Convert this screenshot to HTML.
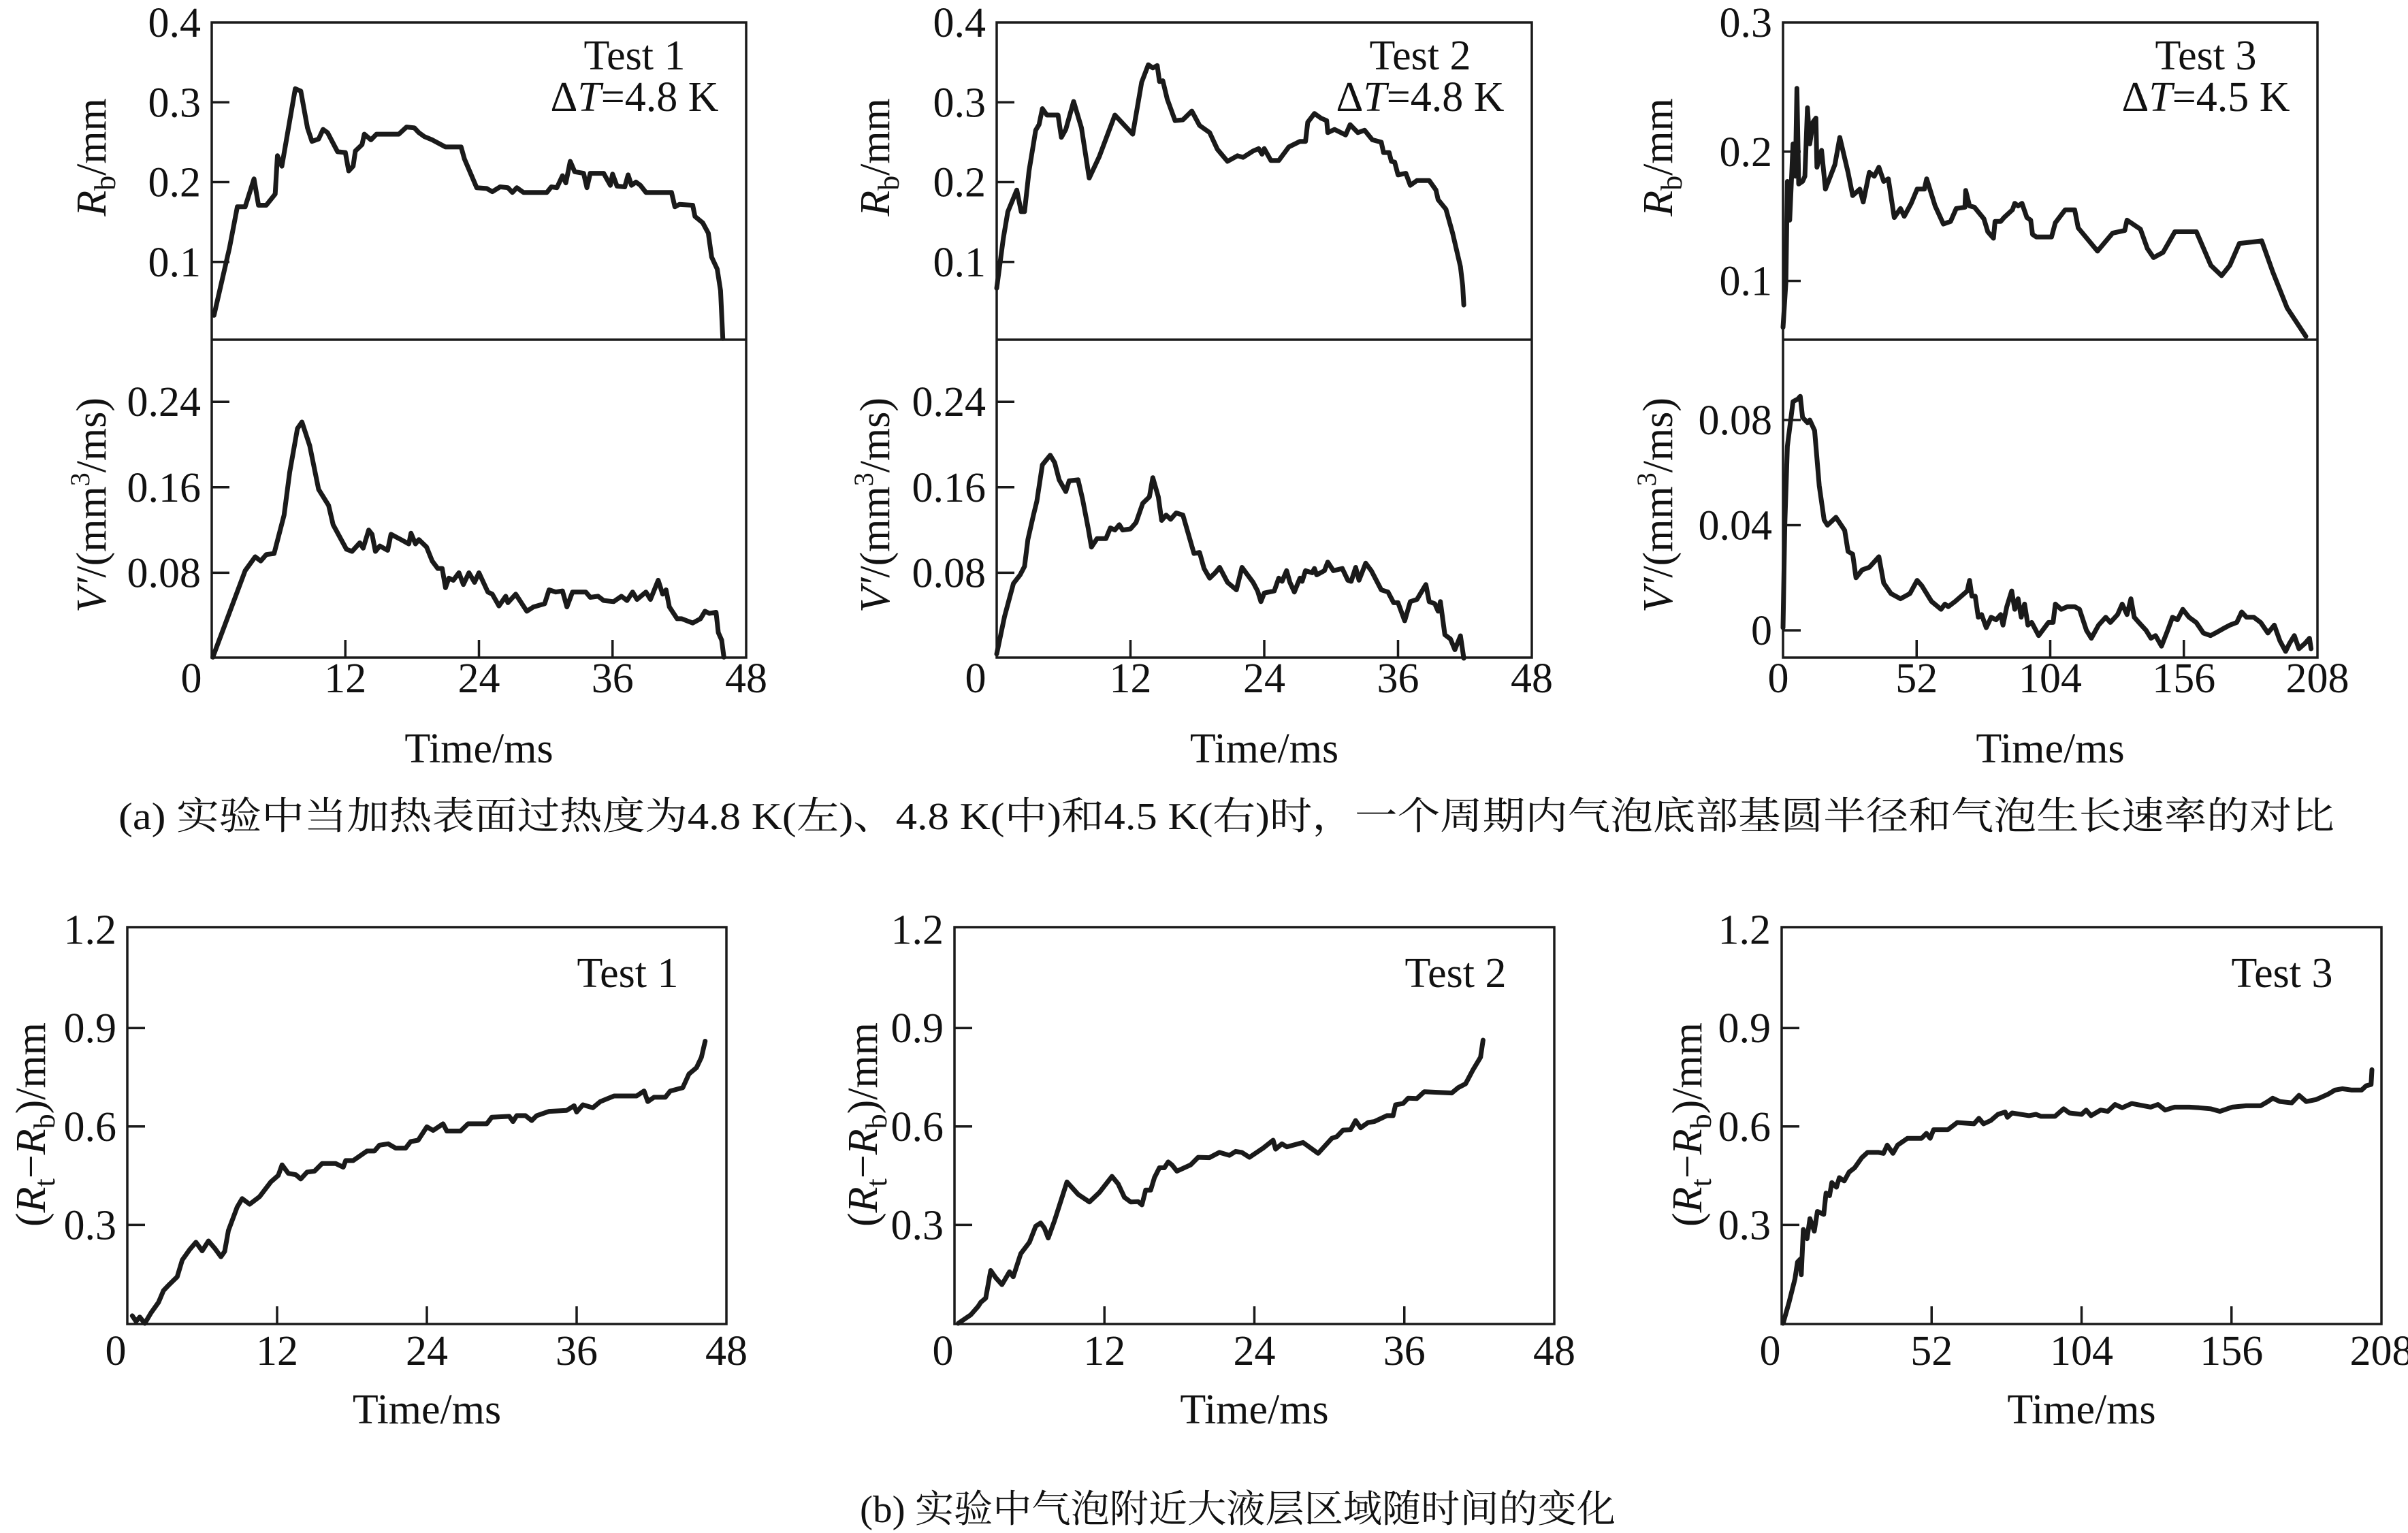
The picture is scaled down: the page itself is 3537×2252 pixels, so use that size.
<!DOCTYPE html>
<html><head><meta charset="utf-8"><style>
html,body{margin:0;padding:0;background:#fff;}
svg{display:block;}
text{font-family:"Liberation Serif","Noto Serif CJK SC",serif;fill:#111;}
.cap{font-family:"Liberation Serif","Noto Serif CJK SC",serif;font-weight:normal;}
</style></head><body>
<svg id="fig" width="3537" height="2252" viewBox="0 0 3537 2252" xmlns="http://www.w3.org/2000/svg" font-family="Liberation Serif, Noto Serif CJK SC, serif">
<text class="cap" x="174" y="1218" font-size="56" textLength="3255" lengthAdjust="spacingAndGlyphs">(a) 实验中当加热表面过热度为4.8 K(左)、4.8 K(中)和4.5 K(右)时，一个周期内气泡底部基圆半径和气泡生长速率的对比</text>
<text class="cap" x="1263" y="2236" font-size="56" textLength="1110" lengthAdjust="spacingAndGlyphs">(b) 实验中气泡附近大液层区域随时间的变化</text>
</svg>
<script>
// ---- data (time in ms, values) ----
const rb1T=[0.2,1.6,2.3,3.0,3.8,4.2,4.9,5.7,5.9,6.3,7.5,8.0,8.6,9.0,9.6,10.0,10.4,11.3,12.0,12.3,12.7,12.9,13.5,13.7,14.3,14.8,16.8,17.5,18.2,18.6,19.1,19.8,21.0,22.4,22.7,23.8,24.7,25.2,25.9,26.6,27.0,27.4,28.0,30.1,30.5,31.0,31.5,31.8,32.2,32.6,33.4,33.7,34.0,35.2,35.8,36.0,36.4,37.1,37.4,37.7,38.1,38.5,39.0,41.3,41.6,42.0,43.2,43.4,44.1,44.6,44.9,45.4,45.7,45.9];
const rb1V=[.033,.118,.169,.169,.204,.171,.171,.185,.233,.22,.317,.314,.268,.251,.254,.266,.262,.238,.237,.214,.22,.239,.247,.26,.253,.26,.26,.269,.268,.262,.257,.253,.244,.244,.229,.193,.192,.188,.194,.193,.187,.193,.187,.187,.194,.193,.208,.199,.226,.213,.211,.193,.211,.211,.196,.21,.195,.194,.209,.196,.2,.196,.187,.187,.169,.172,.171,.157,.149,.136,.106,.091,.064,.004];
const vp1T=[0.1,3.0,3.9,4.4,4.9,5.6,6.5,7.0,7.7,8.1,8.8,9.6,10.5,10.9,12.1,12.6,13.3,13.6,14.1,14.4,14.7,15.1,15.8,16.1,17.0,17.7,17.9,18.3,18.6,19.3,19.8,20.3,20.7,21.0,21.3,21.7,22.2,22.6,23.1,23.6,24.0,24.8,25.2,25.8,26.4,26.6,27.3,28.3,28.9,29.9,30.3,30.9,31.5,31.9,32.4,33.6,34.0,34.7,35.2,36.1,36.8,37.3,37.8,38.2,39.0,39.4,40.1,40.5,40.8,41.1,41.8,42.2,43.2,43.9,44.3,44.7,45.3,45.5,45.8,46.0];
const vp1V=[.001,.082,.095,.091,.097,.098,.134,.174,.215,.221,.199,.158,.143,.125,.102,.100,.108,.103,.12,.116,.100,.105,.101,.116,.111,.107,.117,.107,.111,.104,.091,.084,.084,.066,.075,.073,.080,.069,.080,.071,.080,.062,.060,.049,.058,.052,.060,.044,.048,.051,.064,.062,.063,.048,.062,.062,.057,.058,.054,.053,.058,.054,.062,.055,.062,.055,.073,.06,.064,.048,.037,.037,.033,.037,.044,.042,.043,.024,.017,.001];
const rb2T=[0,0.6,1.0,1.8,2.2,2.5,2.9,3.5,3.8,4.1,4.5,5.5,5.8,6.2,6.9,7.6,8.3,9.2,10.6,12.2,13.0,13.6,14.0,14.4,14.6,14.9,15.3,16.0,16.7,17.5,18.2,19.1,19.8,20.7,21.6,22.1,23.0,23.5,23.8,24.0,24.6,25.3,26.2,27.2,27.7,27.9,28.5,29.1,29.6,29.7,30.3,31.3,31.7,32.4,33.0,33.7,34.5,34.7,35.2,35.4,35.7,36.0,36.7,37.1,37.7,38.8,39.4,39.6,40.3,40.9,41.6,41.8,41.9];
const rb2V=[.067,.13,.163,.19,.163,.163,.214,.265,.272,.292,.284,.284,.256,.266,.301,.268,.205,.232,.284,.26,.325,.347,.343,.346,.326,.327,.304,.277,.278,.289,.271,.262,.241,.226,.233,.231,.239,.242,.235,.242,.227,.227,.244,.251,.251,.275,.286,.28,.277,.262,.266,.259,.272,.262,.265,.253,.25,.237,.237,.226,.225,.209,.211,.196,.202,.202,.19,.178,.166,.136,.094,.070,.046];
const vp2T=[0,0.7,1.5,2.1,2.5,2.8,3.3,3.6,4.1,4.8,5.2,5.6,6.2,6.5,7.3,7.7,8.2,8.5,9.0,9.8,10.2,10.6,11.0,11.3,12.0,12.5,13.1,13.7,14.0,14.5,14.8,15.2,15.6,16.1,16.7,17.7,18.2,18.6,19.1,19.6,20.0,20.7,21.5,22.0,23.0,23.4,23.7,24.0,24.9,25.3,25.6,26.0,26.3,26.7,27.2,27.4,27.7,28.3,28.5,28.7,29.4,29.7,30.2,31.0,31.5,31.8,32.2,32.5,33.1,33.6,34.5,35.1,35.6,36.0,36.6,37.1,37.7,38.5,38.8,39.3,39.6,39.8,40.2,40.7,41.1,41.6,41.9];
const vp2V=[.004,.039,.07,.078,.086,.111,.134,.147,.181,.19,.183,.167,.156,.166,.167,.149,.122,.104,.112,.112,.122,.12,.125,.12,.121,.127,.145,.151,.169,.151,.129,.134,.130,.136,.134,.098,.099,.084,.075,.080,.085,.071,.064,.085,.071,.063,.053,.061,.063,.075,.072,.082,.071,.062,.075,.072,.082,.080,.084,.078,.082,.090,.082,.084,.073,.072,.085,.073,.089,.082,.064,.062,.052,.052,.035,.053,.055,.069,.053,.051,.044,.053,.022,.018,.008,.021,0];
const rb3T=[0,1.1,1.7,2.6,3.9,4.8,5.4,6.1,7.6,8.5,9.5,10.4,11.7,12.8,13.2,15.0,16.5,20.2,22.1,25.3,27.1,29.9,31.2,33.6,35.5,37.3,39.2,41.0,43.3,45.7,47.2,49.9,52.2,55.0,55.9,59.2,62.4,65.2,67.4,70.8,71.1,72.6,74.5,78.2,79.7,81.9,82.5,84.7,86.0,89.3,90.2,91.5,93.0,94.9,96.4,97.1,98.6,104.5,106.0,109.8,113.5,114.9,122.4,128.3,133.0,133.9,139.1,141.8,144.2,147.9,152.5,160.9,166.5,170.7,173.9,177.6,182.2,186.3,190.6,196.2,203.5];
const rb3V=[.064,.099,.177,.147,.206,.181,.249,.175,.177,.181,.234,.206,.223,.226,.188,.201,.171,.19,.211,.184,.166,.171,.161,.184,.181,.188,.177,.179,.149,.156,.15,.16,.171,.171,.179,.158,.144,.146,.156,.157,.17,.158,.157,.148,.138,.133,.146,.146,.149,.155,.16,.158,.16,.149,.147,.136,.134,.134,.145,.155,.155,.141,.123,.137,.139,.147,.14,.125,.118,.122,.138,.138,.112,.104,.112,.129,.13,.131,.107,.079,.057];
const vp3T=[0,0.7,1.7,3.9,5.8,6.7,7.6,9.5,10.4,12.3,14.1,16.0,17.3,20.6,24.0,25.3,27.1,28.4,30.8,33.6,37.3,39.2,42.0,45.7,49.4,52.2,54.0,57.8,61.5,63.0,64.3,67.0,71.7,72.6,73.5,74.8,76.0,77.3,79.1,81.0,82.9,84.7,85.6,87.1,89.0,90.2,91.5,92.7,94.0,95.3,96.8,99.5,103.3,105.1,106.0,108.3,110.7,113.5,115.4,118.1,120.0,122.8,125.6,127.4,130.2,132.0,133.9,135.4,136.7,138.5,141.3,143.2,145.0,147.3,149.7,151.6,153.5,155.6,158.0,160.8,163.6,166.4,168.3,172.0,173.9,176.6,178.5,180.4,183.2,185.9,188.7,191.2,193.4,195.6,197.1,199.0,200.8,203.1,204.9,205.5];
const vp3V=[.001,.04,.07,.087,.088,.089,.081,.079,.08,.076,.055,.042,.04,.043,.038,.030,.029,.02,.023,.024,.028,.018,.014,.012,.014,.019,.017,.011,.008,.01,.009,.011,.015,.019,.013,.013,.005,.006,.001,.005,.004,.006,.002,.009,.015,.008,.012,.005,.01,.002,.003,-.002,.003,.003,.01,.008,.009,.009,.008,0,-.003,.002,.005,.003,.006,.01,.006,.012,.005,.003,0,-.003,-.002,-.006,0,.005,.004,.008,.005,.003,-.001,-.002,-.001,.001,.002,.003,.007,.005,.005,.003,-.001,.002,-.004,-.008,-.005,-.002,-.007,-.005,-.003,-.007];
const rt1T=[0.4,0.7,1.0,1.4,1.9,2.5,2.9,3.3,4.0,4.4,5.0,5.5,6.0,6.5,7.0,7.5,7.8,8.1,8.8,9.2,9.8,10.6,11.5,12.1,12.4,12.9,13.5,13.9,14.4,15.0,15.6,16.7,17.3,17.5,18.1,19.2,19.8,20.2,20.9,21.5,22.3,22.7,23.3,24.0,24.5,25.3,25.6,26.7,27.3,28.8,29.2,30.6,30.9,31.2,31.9,32.4,32.8,33.8,35.2,35.8,36.0,36.5,37.3,37.9,39.0,40.8,41.4,41.7,42.2,43.1,43.5,44.5,45.0,45.6,46.0,46.3];
const rt1V=[.023,.006,.019,0,.032,.064,.1,.116,.142,.193,.225,.247,.221,.251,.229,.203,.219,.283,.354,.38,.363,.386,.431,.451,.483,.457,.453,.44,.461,.464,.487,.487,.476,.496,.496,.525,.525,.543,.547,.534,.534,.554,.558,.599,.588,.608,.586,.586,.608,.608,.628,.631,.615,.633,.633,.618,.633,.646,.649,.663,.644,.666,.657,.676,.693,.693,.708,.676,.689,.689,.708,.718,.76,.779,.811,.86];
const rt2T=[0.3,1.3,1.9,2.1,2.5,2.9,3.3,3.8,4.4,4.7,5.3,6.0,6.5,6.9,7.2,7.5,8.0,9.0,9.9,10.8,11.6,12.6,13.1,13.6,14.1,14.7,15.0,15.3,15.7,16.0,16.4,16.8,17.1,17.4,17.8,18.9,19.5,20.4,21.2,22.0,22.5,23.0,23.6,24.7,25.5,25.7,26.2,26.6,27.9,29.1,30.2,30.6,31.1,31.7,32.1,32.5,33.1,33.6,34.6,35.1,35.3,35.9,36.3,37.0,37.6,39.8,40.3,40.9,41.5,42.1,42.3];
const rt2V=[0,.026,.052,.064,.077,.161,.139,.118,.157,.142,.212,.247,.296,.306,.29,.26,.312,.431,.393,.37,.399,.448,.425,.384,.37,.371,.361,.406,.406,.444,.474,.474,.492,.483,.464,.483,.506,.505,.521,.512,.524,.521,.506,.534,.558,.531,.547,.538,.551,.518,.564,.569,.589,.59,.618,.596,.612,.615,.633,.633,.666,.67,.686,.685,.706,.702,.718,.730,.773,.811,.863];
const rt3T=[0.5,2.5,4.6,5.5,6.5,6.8,7.5,8.8,9.8,11.3,12.4,14.6,15.4,16.6,17.4,19.0,20.0,21.7,23.4,25.3,27.8,29.8,33.6,35.3,36.6,38.6,40.2,43.6,48.5,50.2,51.5,52.7,57.6,60.9,66.7,68.4,70.0,72.5,75.0,77.5,78.3,79.9,85.8,88.2,89.9,94.8,97.8,99.8,104.0,105.6,107.3,110.6,113.1,115.6,118.1,121.4,128.0,130.5,133.0,136.3,141.4,144.7,148.7,152.0,156.2,161.1,166.1,168.6,170.3,172.8,176.9,179.4,181.9,185.3,189.4,191.9,194.4,197.7,201.1,202.7,204.4,204.7];
const rt3V=[0,.062,.135,.187,.196,.148,.286,.258,.319,.281,.341,.332,.397,.389,.429,.415,.444,.434,.461,.474,.505,.521,.521,.518,.543,.518,.543,.564,.564,.579,.564,.59,.59,.612,.608,.625,.608,.618,.637,.644,.628,.641,.633,.637,.631,.631,.654,.641,.637,.65,.633,.65,.646,.667,.657,.67,.659,.667,.65,.659,.659,.657,.654,.646,.659,.663,.663,.676,.686,.676,.672,.695,.676,.682,.698,.711,.715,.711,.711,.724,.728,.773];
// tick values
const xTicks48=[0,12,24,36,48];
const xTicks208=[0,52,104,156,208];
const rbTicks12=[0.4,0.3,0.2,0.1];
const vpTicks12=[0.24,0.16,0.08];
const rbTicks3=[0.3,0.2,0.1];
const vpTicks3=[0.08,0.04,0];
const rtTicks=[1.2,0.9,0.6,0.3];

const NS='http://www.w3.org/2000/svg';
const svg=document.getElementById('fig');
function el(tag,attrs,parent){const e=document.createElementNS(NS,tag);for(const k in attrs)e.setAttribute(k,attrs[k]);(parent||svg).appendChild(e);return e;}
function txt(s,x,y,anchor,size,parent){const t=el('text',{x:x,y:y,'text-anchor':anchor,'font-size':size||62,'font-family':'Liberation Serif, serif'},parent);t.textContent=s;return t;}
function lin(d0,d1,p0,p1){return v=>p0+(v-d0)/(d1-d0)*(p1-p0);}
function series(T,V,xs,ys,g){let d='';for(let i=0;i<T.length;i++){d+=(i?'L':'M')+xs(T[i]).toFixed(1)+' '+ys(V[i]).toFixed(1);}
  const p=el('path',{d:d,fill:'none',stroke:'#1a1a1a','stroke-width':7,'stroke-linejoin':'round','stroke-linecap':'round'},g);return p;}
function frame(x0,y0,x1,y1,g){el('rect',{x:x0,y:y0,width:x1-x0,height:y1-y0,fill:'none',stroke:'#1a1a1a','stroke-width':3.5},g);}
function yTicks(vals,ys,x0,labels,g,skipTop,topY){vals.forEach(v=>{const y=ys(v);
  if(Math.abs(y-topY)>4) el('line',{x1:x0,x2:x0+26,y1:y,y2:y,stroke:'#1a1a1a','stroke-width':3.5},g);
  txt(labels(v),x0-16,y+21,'end',62,g);});}
function xTicksDraw(vals,xs,yb,zeroOff,g,ly){vals.forEach((v,i)=>{const x=xs(v);
  if(i>0&&i<vals.length-1) el('line',{x1:x,x2:x,y1:yb,y2:yb-26,stroke:'#1a1a1a','stroke-width':3.5},g);
  txt(String(v),i===0?x+zeroOff:x,ly,'middle',62,g);});}
function fmt(v){return v===0?'0':String(v);}

// ---- top row ----
const tops=[
 {x0:311,x1:1096,rbT:rb1T,rbV:rb1V,vpT:vp1T,vpV:vp1V,xmax:48,xt:xTicks48,test:'Test 1',dt:'4.8 K',tx:932,yl:135,zo:-30,rbR:[0,0.4],rbP:[502,33],vpR:[0,0.3],vpP:[967,496],rbTk:rbTicks12,vpTk:vpTicks12},
 {x0:1464,x1:2250,rbT:rb2T,rbV:rb2V,vpT:vp2T,vpV:vp2V,xmax:48,xt:xTicks48,test:'Test 2',dt:'4.8 K',tx:2086,yl:1286,zo:-31,rbR:[0,0.4],rbP:[502,33],vpR:[0,0.3],vpP:[967,496],rbTk:rbTicks12,vpTk:vpTicks12},
 {x0:2619,x1:3404,rbT:rb3T,rbV:rb3V,vpT:vp3T,vpV:vp3V,xmax:208,xt:xTicks208,test:'Test 3',dt:'4.5 K',tx:3240,yl:2436,zo:-7,rbR:[0.1,0.3],rbP:[412.6,33],vpR:[0,0.08],vpP:[926,617],rbTk:rbTicks3,vpTk:vpTicks3}
];
tops.forEach((c,i)=>{
  const g=el('g',{});
  
  
  const xs=lin(0,c.xmax,c.x0,c.x1);
  const ysR=lin(c.rbR[0],c.rbR[1],c.rbP[0],c.rbP[1]);
  const ysV=lin(c.vpR[0],c.vpR[1],c.vpP[0],c.vpP[1]);
  frame(c.x0,33,c.x1,966,g);
  const dv=el('line',{x1:c.x0,x2:c.x1,y1:499,y2:499,stroke:'#1a1a1a','stroke-width':3.5},g);
  
  
  yTicks(c.rbTk,ysR,c.x0,fmt,g,true,33);
  yTicks(c.vpTk,ysV,c.x0,fmt,g,false,-100);
  xTicksDraw(c.xt,xs,966,c.zo,g,1017);
  const p1=series(c.rbT,c.rbV,xs,ysR,g);
  
  
  const p2=series(c.vpT,c.vpV,xs,ysV,g);
  
  
  const t1=txt(c.test,c.tx,102,'middle',62,g);
  
  
  const t2=el('text',{x:c.tx,y:163,'text-anchor':'middle','font-size':62,'font-family':'Liberation Serif, serif'},g);
  t2.innerHTML='Δ<tspan font-style="italic">T</tspan>=4'+c.dt.slice(1);
  
  
  const xt=txt('Time/ms',(c.x0+c.x1)/2,1120,'middle',62,g);
  
  
  const ya=el('text',{transform:'translate('+(c.yl+20)+',231) rotate(-90)','text-anchor':'middle','font-size':62,'font-family':'Liberation Serif, serif'},g);
  ya.innerHTML='<tspan font-style="italic">R</tspan><tspan font-size="44" dy="14">b</tspan><tspan dy="-14">/mm</tspan>';
  
  
  const yb=el('text',{transform:'translate('+(c.yl+20)+',742) rotate(-90)','text-anchor':'middle','font-size':62,'font-family':'Liberation Serif, serif'},g);
  yb.innerHTML='<tspan font-style="italic">V′</tspan>/(mm<tspan font-size="40" dy="-24">3</tspan><tspan dy="24">/ms)</tspan>';
  
  
});

// ---- bottom row ----
const bots=[
 {x0:187,x1:1067,T:rt1T,V:rt1V,xmax:48,xt:xTicks48,test:'Test 1',tx:922,yl:46},
 {x0:1402,x1:2283,T:rt2T,V:rt2V,xmax:48,xt:xTicks48,test:'Test 2',tx:2138,yl:1268},
 {x0:2617,x1:3498,T:rt3T,V:rt3V,xmax:208,xt:xTicks208,test:'Test 3',tx:3352,yl:2479}
];
bots.forEach((c,i)=>{
  const g=el('g',{});
  
  
  const xs=lin(0,c.xmax,c.x0,c.x1);
  const ys=lin(0,1.2,1944,1365.6);
  frame(c.x0,1362,c.x1,1945,g);
  yTicks(rtTicks,ys,c.x0,fmt,g,true,1362);
  xTicksDraw(c.xt,xs,1945,-17,g,2005);
  const p=series(c.T,c.V,xs,ys,g);
  
  
  const t1=txt(c.test,c.tx,1450,'middle',62,g);
  
  
  const xt=txt('Time/ms',(c.x0+c.x1)/2,2091,'middle',62,g);
  
  
  const ya=el('text',{transform:'translate('+(c.yl+20)+',1652) rotate(-90)','text-anchor':'middle','font-size':62,'font-family':'Liberation Serif, serif'},g);
  ya.innerHTML='(<tspan font-style="italic">R</tspan><tspan font-size="44" dy="14">t</tspan><tspan dy="-14">−</tspan><tspan font-style="italic">R</tspan><tspan font-size="44" dy="14">b</tspan><tspan dy="-14">)/mm</tspan>';
  
  
});
</script>
</body></html>
